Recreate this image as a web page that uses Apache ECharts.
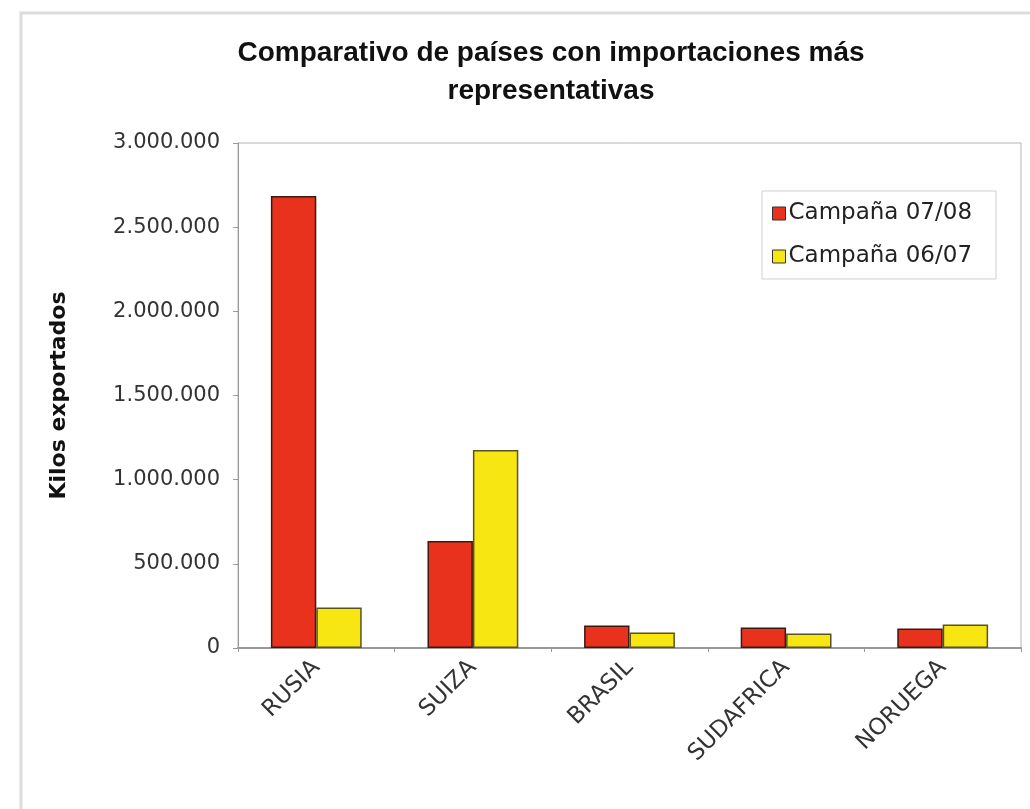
<!DOCTYPE html>
<html>
<head>
<meta charset="utf-8">
<script src="https://cdn.jsdelivr.net/npm/echarts@6/dist/echarts.min.js"></script>
<style>
html,body{margin:0;padding:0;background:#fff;}
#c{width:1030px;height:809px;}
</style>
</head>
<body>
<div id="c"></div>
<script>
const categories = ['RUSIA', 'SUIZA', 'BRASIL', 'SUDAFRICA', 'NORUEGA'];
const campana0708 = [2685000, 636000, 133000, 122000, 116000];
const campana0607 = [240000, 1176000, 92000, 86000, 140000];
const seriesNames = ['Campaña 07/08', 'Campaña 06/07'];
const titleText = 'Comparativo de países con importaciones más\nrepresentativas';
const yAxisName = 'Kilos exportados';

function fmt(v){
  return String(v).replace(/\B(?=(\d{3})+(?!\d))/g, '.');
}

const chart = echarts.init(document.getElementById('c'), null, {renderer:'canvas'});
chart.setOption({
  backgroundColor: '#ffffff',
  animation: false,
  graphic: [{
    type: 'rect',
    shape: {x: 21, y: 13, width: 1040, height: 900},
    style: {fill: 'none', stroke: '#dcdcdc', lineWidth: 3},
    silent: true,
    z: -1
  }],
  title: {
    text: titleText,
    left: 546,
    textAlign: 'center',
    top: 29,
    textStyle: {
      fontFamily: 'Liberation Sans',
      fontWeight: 'bold',
      fontSize: 28,
      lineHeight: 38,
      color: '#111'
    }
  },
  legend: {
    orient: 'vertical',
    left: 762,
    top: 191,
    padding: [11, 24, 11, 10],
    itemGap: 20,
    itemWidth: 13,
    itemHeight: 13,
    icon: 'rect',
    borderColor: '#cfcfcf',
    borderWidth: 1,
    textStyle: {fontFamily: 'DejaVu Sans', fontSize: 23, color: '#222', padding: [0,0,0,-2]},
    data: seriesNames.map(n => ({name: n, itemStyle: {borderColor: '#333', borderWidth: 1}}))
  },
  grid: {
    left: 238, top: 143, right: 9, bottom: 161,
    show: true,
    borderColor: '#b5b5b5',
    borderWidth: 1,
    backgroundColor: '#fff'
  },
  xAxis: {
    type: 'category',
    data: categories,
    axisLine: {lineStyle: {color: '#999', width: 2}},
    axisTick: {show: true, length: 4, lineStyle: {color: '#999'}},
    axisLabel: {
      rotate: 45,
      fontFamily: 'DejaVu Sans',
      fontSize: 23,
      color: '#333',
      margin: 16
    }
  },
  yAxis: {
    type: 'value',
    min: 0, max: 3000000, interval: 500000,
    name: yAxisName,
    nameLocation: 'middle',
    nameGap: 168,
    nameTextStyle: {fontFamily: 'DejaVu Sans', fontWeight: 'bold', fontSize: 22, color: '#111'},
    axisLine: {show: true, lineStyle: {color: '#999'}},
    axisTick: {show: true, length: 5, lineStyle: {color: '#999'}},
    splitLine: {show: false},
    axisLabel: {
      fontFamily: 'DejaVu Sans',
      fontSize: 21,
      color: '#333',
      margin: 18,
      formatter: fmt
    }
  },
  series: [{
    name: seriesNames[0],
    type: 'bar',
    data: campana0708,
    barGap: '0%',
    barCategoryGap: '42%',
    itemStyle: {color: '#E8321E', borderColor: '#3a1a10', borderWidth: 1.5}
  }, {
    name: seriesNames[1],
    type: 'bar',
    data: campana0607,
    itemStyle: {color: '#F7E612', borderColor: '#5a5220', borderWidth: 1.5}
  }]
});
</script>
</body>
</html>
